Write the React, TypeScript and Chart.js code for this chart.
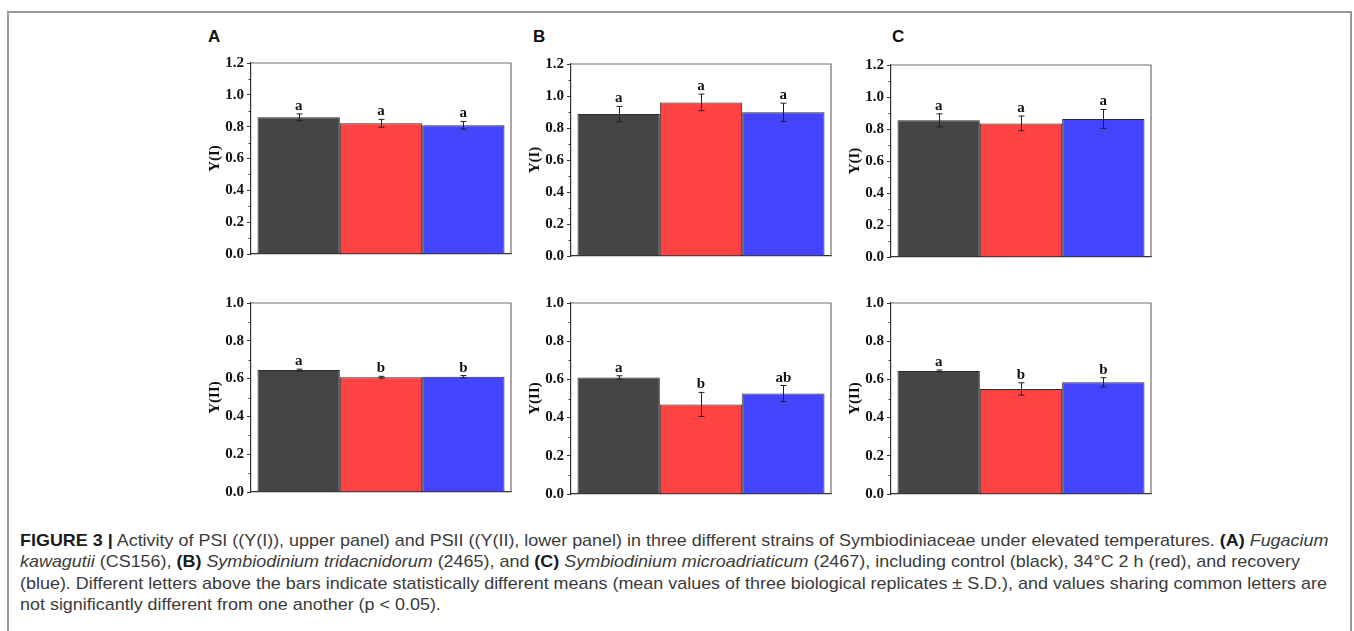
import React, { useEffect, useLayoutEffect, useRef } from 'react';
import { Chart, registerables } from 'chart.js';
Chart.register(...registerables);

// ---------- data ----------
const seriesNames = ['control', '34°C 2 h', 'recovery'];
const seriesColors = ['#444444', '#ff4242', '#4444ff'];
const panelLabels = ['A', 'B', 'C'];

const psiMeansA = [0.859, 0.821, 0.809];
const psiSdA = [0.021, 0.025, 0.024];
const psiLettersA = ['a', 'a', 'a'];
const psiMeansB = [0.887, 0.96, 0.898];
const psiSdB = [0.048, 0.052, 0.057];
const psiLettersB = ['a', 'a', 'a'];
const psiMeansC = [0.854, 0.835, 0.863];
const psiSdC = [0.041, 0.046, 0.059];
const psiLettersC = ['a', 'a', 'a'];

const psiiMeansA = [0.645, 0.607, 0.61];
const psiiSdA = [0.005, 0.005, 0.006];
const psiiLettersA = ['a', 'b', 'b'];
const psiiMeansB = [0.61, 0.469, 0.526];
const psiiSdB = [0.009, 0.063, 0.042];
const psiiLettersB = ['a', 'b', 'ab'];
const psiiMeansC = [0.644, 0.55, 0.585];
const psiiSdC = [0.005, 0.032, 0.024];
const psiiLettersC = ['a', 'b', 'b'];

const psiTicksMax = 1.2;
const psiiTicksMax = 1.0;
const tickStep = 0.2;

// ---------- layout ----------
const SERIF = '"Liberation Serif", "Times New Roman", serif';
const PAD_L = 70;
const PAD_R = 10;
const PAD_T = 14;
const PAD_B = 14;

type PanelProps = {
  means: number[];
  sds: number[];
  letters: string[];
  yMax: number;
  yTitle: string;
  left: number;
  top: number;
  right: number;
  bottom: number;
};

function Panel(p: PanelProps) {
  const ref = useRef<HTMLCanvasElement>(null);
  const w = p.right - p.left + PAD_L + PAD_R;
  const h = p.bottom - p.top + PAD_T + PAD_B;

  useEffect(() => {
    const canvas = ref.current;
    if (!canvas) return;
    const framePlugin = {
      id: 'frame',
      afterDraw(chart: any) {
        const { ctx, chartArea: a } = chart;
        ctx.save();
        ctx.strokeStyle = '#6e6e6e';
        ctx.lineWidth = 1.2;
        ctx.beginPath();
        ctx.moveTo(a.left, a.top);
        ctx.lineTo(a.right, a.top);
        ctx.lineTo(a.right, a.bottom);
        ctx.stroke();
        // minor ticks
        const ys = chart.scales.y;
        ctx.strokeStyle = '#333';
        ctx.lineWidth = 1;
        for (let v = tickStep / 2; v < p.yMax; v += tickStep) {
          const y = Math.round(ys.getPixelForValue(v)) + 0.5;
          ctx.beginPath();
          ctx.moveTo(a.left, y);
          ctx.lineTo(a.left - 2.5, y);
          ctx.stroke();
        }
        ctx.restore();
      },
    };
    const errPlugin = {
      id: 'errbars',
      afterDatasetsDraw(chart: any) {
        const { ctx } = chart;
        const ys = chart.scales.y;
        ctx.save();
        chart.data.datasets.forEach((ds: any, i: number) => {
          const bar = chart.getDatasetMeta(i).data[0];
          const x = Math.round(bar.x) + 0.5;
          const m = ds.data[0];
          const sd = p.sds[i];
          const yT = ys.getPixelForValue(m + sd);
          const yB = ys.getPixelForValue(m - sd);
          ctx.strokeStyle = '#222';
          ctx.lineWidth = 1;
          ctx.beginPath();
          ctx.moveTo(x, yT);
          ctx.lineTo(x, yB);
          ctx.moveTo(x - 3, yT);
          ctx.lineTo(x + 3, yT);
          ctx.moveTo(x - 3, yB);
          ctx.lineTo(x + 3, yB);
          ctx.stroke();
          ctx.fillStyle = '#111';
          ctx.font = `bold 15px ${SERIF}`;
          ctx.textAlign = 'center';
          ctx.textBaseline = 'alphabetic';
          ctx.fillText(p.letters[i], bar.x, yT - 4);
        });
        ctx.restore();
      },
    };
    const chart = new Chart(canvas, {
      type: 'bar',
      data: {
        labels: [''],
        datasets: seriesNames.map((name, i) => ({
          label: name,
          data: [p.means[i]],
          backgroundColor: seriesColors[i],
          borderColor: '#2b2b2b',
          borderWidth: 1,
          categoryPercentage: 0.95,
          barPercentage: 1,
        })),
      },
      options: {
        responsive: false,
        animation: false,
        devicePixelRatio: 1,
        layout: { padding: { left: 0, right: PAD_R, top: PAD_T, bottom: PAD_B } },
        plugins: { legend: { display: false }, tooltip: { enabled: false } },
        scales: {
          x: {
            type: 'category',
            grid: { display: false },
            ticks: { display: false },
            border: { display: true, color: '#333', width: 1.2 },
            afterFit: (s: any) => {
              s.height = 0;
            },
          },
          y: {
            min: 0,
            max: p.yMax,
            ticks: {
              stepSize: tickStep,
              padding: 3,
              color: '#111',
              font: { family: SERIF, weight: 'bold', size: 15 },
              callback: (v: any) => Number(v).toFixed(1),
            },
            grid: {
              drawOnChartArea: false,
              drawTicks: true,
              tickLength: 4,
              color: '#333',
              tickColor: '#333',
            },
            border: { display: true, color: '#333', width: 1.2 },
            title: {
              display: true,
              text: p.yTitle,
              color: '#111',
              font: { family: SERIF, weight: 'bold', size: 15 },
              padding: { top: 25, bottom: 0 },
            },
            afterFit: (s: any) => {
              s.width = PAD_L;
            },
          },
        },
      } as any,
      plugins: [framePlugin, errPlugin],
    });
    return () => chart.destroy();
  }, []);

  return (
    <canvas
      ref={ref}
      width={w}
      height={h}
      style={{ position: 'absolute', left: p.left - PAD_L, top: p.top - PAD_T, width: w, height: h }}
    />
  );
}

function Caption() {
  const ref = useRef<HTMLDivElement>(null);
  const lineRef = useRef<HTMLSpanElement>(null);
  useLayoutEffect(() => {
    const el = ref.current;
    const ln = lineRef.current;
    if (!el || !ln) return;
    const w = ln.getBoundingClientRect().width;
    if (w > 0) el.style.transform = `scaleX(${1307 / w})`;
  }, []);
  const b = { fontWeight: 'bold' as const, color: '#1a1a1a' };
  const it = { fontStyle: 'italic' as const };
  const line = { whiteSpace: 'nowrap' as const };
  return (
    <div
      ref={ref}
      style={{
        position: 'absolute',
        left: 20,
        top: 530,
        fontFamily: '"Liberation Sans", Arial, sans-serif',
        fontSize: 17,
        lineHeight: '21.3px',
        color: '#3a3a3a',
        transformOrigin: 'left top',
      }}
    >
      <div style={line}>
        <span style={b}>FIGURE 3 |</span> Activity of PSI ((Y(I)), upper panel) and PSII ((Y(II), lower panel) in three
        different strains of Symbiodiniaceae under elevated temperatures. <span style={b}>(A)</span>{' '}
        <span style={it}>Fugacium</span>
      </div>
      <div style={line}>
        <span style={it}>kawagutii</span> (CS156), <span style={b}>(B)</span>{' '}
        <span style={it}>Symbiodinium tridacnidorum</span> (2465), and <span style={b}>(C)</span>{' '}
        <span style={it}>Symbiodinium microadriaticum</span> (2467), including control (black), 34°C 2 h (red), and
        recovery
      </div>
      <div style={line}>
        <span ref={lineRef}>
          (blue). Different letters above the bars indicate statistically different means (mean values of three
          biological replicates ± S.D.), and values sharing common letters are
        </span>
      </div>
      <div style={line}>not significantly different from one another (p &lt; 0.05).</div>
    </div>
  );
}

const colLeft = [251, 571, 891];
const topRowTop = [63, 64, 65];
const topRowBottom = [254, 256, 257];
const botRowTop = [303, 303, 303];
const botRowBottom = [492, 494, 494];
const letterLeft = [208, 533, 892];

export default function App() {
  const psiMeans = [psiMeansA, psiMeansB, psiMeansC];
  const psiSds = [psiSdA, psiSdB, psiSdC];
  const psiLetters = [psiLettersA, psiLettersB, psiLettersC];
  const psiiMeans = [psiiMeansA, psiiMeansB, psiiMeansC];
  const psiiSds = [psiiSdA, psiiSdB, psiiSdC];
  const psiiLetters = [psiiLettersA, psiiLettersB, psiiLettersC];

  return (
    <div
      style={{
        position: 'fixed',
        left: 0,
        top: 0,
        width: 1354,
        height: 631,
        overflow: 'hidden',
        background: '#fff',
      }}
    >
      <div
        style={{
          position: 'absolute',
          left: 7,
          top: 11,
          width: 1345,
          height: 700,
          border: '2px solid #999',
          boxSizing: 'border-box',
        }}
      />
      {panelLabels.map((lab, i) => (
        <div
          key={lab}
          style={{
            position: 'absolute',
            left: letterLeft[i],
            top: 28,
            fontFamily: '"Liberation Sans", Arial, sans-serif',
            fontWeight: 'bold',
            fontSize: 17,
            lineHeight: '17px',
            color: '#111',
          }}
        >
          {lab}
        </div>
      ))}
      {colLeft.map((L, i) => (
        <Panel
          key={'t' + i}
          means={psiMeans[i]}
          sds={psiSds[i]}
          letters={psiLetters[i]}
          yMax={psiTicksMax}
          yTitle="Y(I)"
          left={L}
          right={L + 260}
          top={topRowTop[i]}
          bottom={topRowBottom[i]}
        />
      ))}
      {colLeft.map((L, i) => (
        <Panel
          key={'b' + i}
          means={psiiMeans[i]}
          sds={psiiSds[i]}
          letters={psiiLetters[i]}
          yMax={psiiTicksMax}
          yTitle="Y(II)"
          left={L}
          right={L + 260}
          top={botRowTop[i]}
          bottom={botRowBottom[i]}
        />
      ))}
      <Caption />
    </div>
  );
}
